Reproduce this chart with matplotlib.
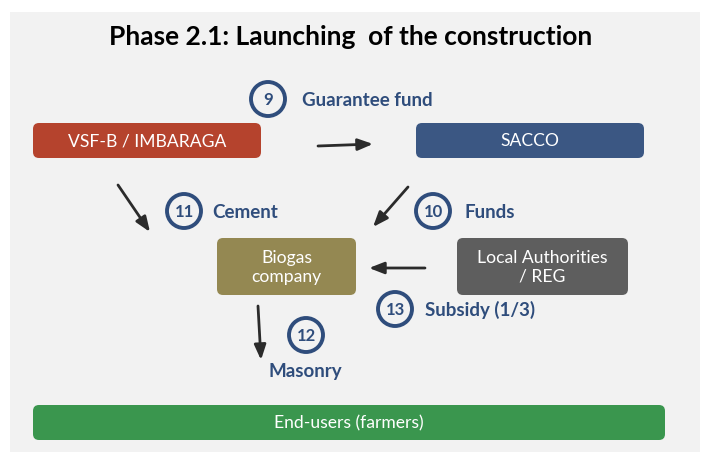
import matplotlib
matplotlib.use("Agg")
import matplotlib.pyplot as plt
from matplotlib.patches import FancyBboxPatch, Circle, Rectangle

# ---- data ----
title = "Phase 2.1: Launching  of the construction"
box_labels = ["VSF-B / IMBARAGA", "SACCO", "Biogas\ncompany", "Local Authorities\n/ REG", "End-users (farmers)"]
box_colors = ["#b5432d", "#3b5783", "#948852", "#5e5e5e", "#3a964e"]
box_x0 = [33, 416, 217, 457, 33]
box_x1 = [261, 644, 356, 628, 665]
box_y0 = [123, 123, 238, 238, 405]
box_y1 = [158, 158, 295, 295, 440]

step_numbers = ["9", "11", "10", "13", "12"]
step_labels = ["Guarantee fund", "Cement", "Funds", "Subsidy (1/3)", "Masonry"]
circle_x = [268, 184, 433, 395, 306]
circle_y = [99, 211, 211, 309, 335]
label_x = [302, 212, 465, 425, 269]
label_y = [99, 211, 211, 309, 371]

arrow_start = [(318, 146), (118, 185), (408, 187), (425, 268), (258, 306)]
arrow_end = [(373, 144), (150, 232), (373, 227), (369, 268), (261, 360)]

W, H = 709, 457
fig = plt.figure(figsize=(W / 100, H / 100), dpi=100)
ax = fig.add_axes([0, 0, 1, 1])
ax.set_xlim(0, W)
ax.set_ylim(H, 0)
ax.axis("off")
fig.patch.set_facecolor("white")

ax.add_patch(Rectangle((10, 12), 690, 440, facecolor="#f2f2f2", edgecolor="none", zorder=0))

FONT = ["Lato", "DejaVu Sans"]
BLUE = "#2f4d7c"

ax.text(351, 37, title, ha="center", va="center", fontsize=19, fontweight="bold",
        color="black", family=FONT)

for lab, c, x0, x1, y0, y1 in zip(box_labels, box_colors, box_x0, box_x1, box_y0, box_y1):
    ax.add_patch(FancyBboxPatch((x0, y0), x1 - x0, y1 - y0,
                                boxstyle="round,pad=0,rounding_size=6",
                                facecolor=c, edgecolor="none", zorder=2))
    ax.text((x0 + x1) / 2, (y0 + y1) / 2 + 1, lab, ha="center", va="center",
            fontsize=12.6, color="white", family=FONT, linespacing=1.2, zorder=3)

for num, lab, cx, cy, lx, ly in zip(step_numbers, step_labels, circle_x, circle_y, label_x, label_y):
    ax.add_patch(Circle((cx, cy), 17, facecolor="none", edgecolor=BLUE, linewidth=2.8, zorder=3))
    ax.text(cx, cy + 1, num, ha="center", va="center", fontsize=12, fontweight="bold",
            color=BLUE, family=FONT, zorder=4)
    ax.text(lx, ly + 1, lab, ha="left", va="center", fontsize=13.5, fontweight="bold",
            color=BLUE, family=FONT, zorder=4)

for (sx, sy), (ex, ey) in zip(arrow_start, arrow_end):
    ax.annotate("", xy=(ex, ey), xytext=(sx, sy),
                arrowprops=dict(arrowstyle="-|>,head_length=0.9,head_width=0.35",
                                color="#2b2b2b", lw=2.0, shrinkA=0, shrinkB=0),
                zorder=3)

fig.savefig("out.png", dpi=100, facecolor="white")
